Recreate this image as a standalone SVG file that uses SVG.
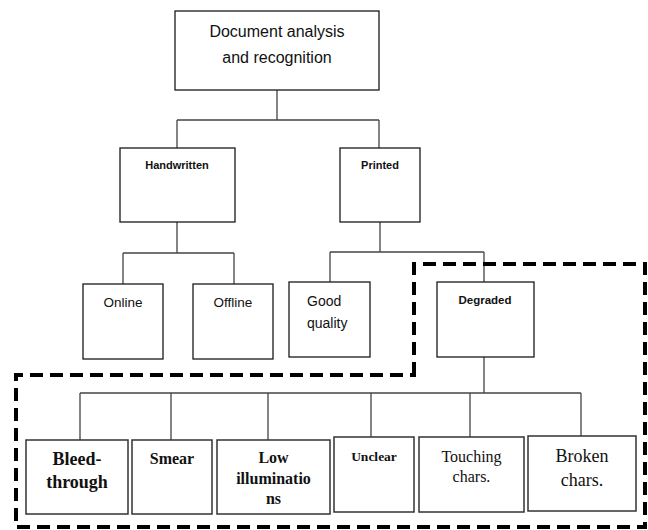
<svg xmlns="http://www.w3.org/2000/svg" width="648" height="530" viewBox="0 0 648 530">
<style>
.box{fill:#fff;stroke:#1a1a1a;stroke-width:1.3}
.bbox{fill:#fff;stroke:#333;stroke-width:1.5}
.c{fill:none;stroke:#444;stroke-width:1.3}
.s{font-family:"Liberation Sans",Arial,sans-serif;fill:#111;text-anchor:middle}
.t{font-family:"Liberation Serif","Times New Roman",serif;fill:#111;text-anchor:middle}
.l{text-anchor:start}
.dash{fill:none;stroke:#000;stroke-width:4;stroke-dasharray:13 7}
</style>
<rect width="648" height="530" fill="#fff"/>
<g id="connectors">
<path class="c" d="M277 90V120M177 120H379M177 120V148M379 120V148"/>
<path class="c" d="M177 222V253M123 253H234M123 253V284M234 253V284"/>
<path class="c" d="M380 222V252M330 252H484M330 252V282M484 252V282"/>
<path class="c" d="M484 357V393M80 393H581M80 393V440M171 393V440M268 393V440M371 393V437M470 393V437M581 393V436"/>
</g>
<g id="region">
<path class="dash" d="M414 375V264H645V527H16V375Z"/>
</g>
<g id="root"><rect class="box" x="175" y="11" width="204" height="79"/>
<text class="s" x="277" y="37" font-size="16">Document analysis</text>
<text class="s" x="277" y="63" font-size="16">and recognition</text></g>
<g id="handwritten"><rect class="box" x="120" y="148" width="115" height="74"/>
<text class="s" x="177" y="169" font-size="11" font-weight="bold">Handwritten</text></g>
<g id="printed"><rect class="box" x="340" y="148" width="80" height="74"/>
<text class="s" x="380" y="169" font-size="11" font-weight="bold">Printed</text></g>
<g id="online"><rect class="box" x="83" y="284" width="80" height="75"/>
<text class="s" x="123" y="307" font-size="13.5">Online</text></g>
<g id="offline"><rect class="box" x="193" y="284" width="80" height="75"/>
<text class="s" x="233" y="307" font-size="13.5">Offline</text></g>
<g id="good"><rect class="box" x="289" y="282" width="81" height="75"/>
<text class="s l" x="307" y="306" font-size="14">Good</text>
<text class="s l" x="307" y="328" font-size="14">quality</text></g>
<g id="degraded"><rect class="box" x="437" y="282" width="97" height="75"/>
<text class="s" x="485" y="304" font-size="11.5" font-weight="bold">Degraded</text></g>
<g id="bleed"><rect class="bbox" x="26" y="440" width="102" height="74"/>
<text class="t" x="77" y="465" font-size="18" font-weight="bold">Bleed-</text>
<text class="t" x="77" y="488" font-size="18" font-weight="bold">through</text></g>
<g id="smear"><rect class="bbox" x="132" y="440" width="80" height="74"/>
<text class="t" x="172" y="464" font-size="16" font-weight="bold">Smear</text></g>
<g id="low"><rect class="bbox" x="217" y="440" width="113" height="74"/>
<text class="t" x="273.5" y="463" font-size="16" font-weight="bold">Low</text>
<text class="t" x="273.5" y="484" font-size="16" font-weight="bold">illuminatio</text>
<text class="t" x="273.5" y="504" font-size="16" font-weight="bold">ns</text></g>
<g id="unclear"><rect class="bbox" x="334" y="437" width="80" height="75"/>
<text class="t" x="374" y="461" font-size="13.5" font-weight="bold">Unclear</text></g>
<g id="touching"><rect class="bbox" x="419" y="437" width="105" height="75"/>
<text class="t" x="471.5" y="462" font-size="16">Touching</text>
<text class="t" x="471.5" y="482" font-size="16">chars.</text></g>
<g id="broken"><rect class="bbox" x="528" y="436" width="108" height="75"/>
<text class="t" x="582" y="462" font-size="18">Broken</text>
<text class="t" x="582" y="486" font-size="18">chars.</text></g>
</svg>
